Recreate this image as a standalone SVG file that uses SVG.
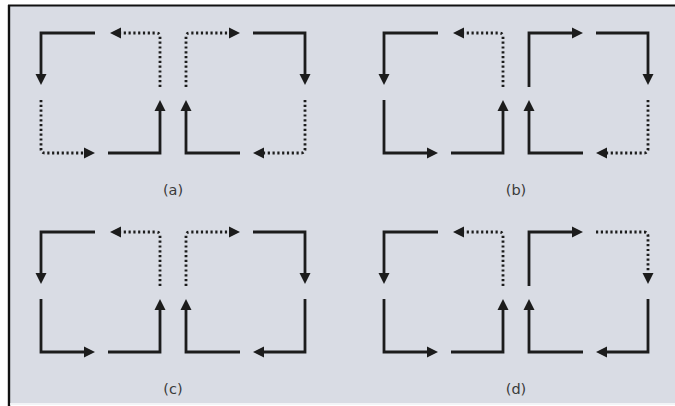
<svg xmlns="http://www.w3.org/2000/svg" width="675" height="406" viewBox="0 0 675 406">
  <style>
    .solid { fill: none; stroke: #1c1c1c; stroke-width: 2.8; stroke-linejoin: miter; }
    .dot { fill: none; stroke: #1c1c1c; stroke-width: 2.8; stroke-dasharray: 2.2 2.6; }
    .lbl { font-family: "DejaVu Sans", "Liberation Sans", sans-serif; font-size: 14.5px; fill: #3a3a3a; text-anchor: middle; }
  </style>
  <defs>
    <marker id="head" markerUnits="userSpaceOnUse" markerWidth="11" markerHeight="11" refX="0" refY="5.5" orient="auto" overflow="visible">
      <path d="M0,0 L11,5.5 L0,11 Z" fill="#1c1c1c"/>
    </marker>
  </defs>

  <!-- frame -->
  <rect x="0" y="0" width="675" height="406" fill="#ffffff"/>
  <rect x="9" y="6" width="666" height="397" fill="#d9dce4"/>
  <line x1="8" y1="5.5" x2="675" y2="5.5" stroke="#111" stroke-width="2.2"/>
  <line x1="9" y1="5" x2="9" y2="406" stroke="#111" stroke-width="2.4"/>
  <line x1="10" y1="404" x2="675" y2="404" stroke="#eef0f4" stroke-width="1.5"/>

  <g id="connectors">
    <!-- panel (a) -->
    <g id="panel-a">
      <path class="solid" d="M95,33 H41 V74" marker-end="url(#head)"/>
      <path class="dot" d="M160,87 V37 Q160,33 156,33 H121" marker-end="url(#head)"/>
      <path class="dot" d="M186,87 V37 Q186,33 190,33 H229" marker-end="url(#head)"/>
      <path class="solid" d="M253,33 H305 V74" marker-end="url(#head)"/>
      <path class="dot" d="M41,100 V149 Q41,153 45,153 H84" marker-end="url(#head)"/>
      <path class="solid" d="M108,153 H160 V111" marker-end="url(#head)"/>
      <path class="solid" d="M240,153 H186 V111" marker-end="url(#head)"/>
      <path class="dot" d="M305,100 V149 Q305,153 301,153 H264" marker-end="url(#head)"/>
    </g>
    <!-- panel (b) -->
    <g id="panel-b" transform="translate(343,0)">
      <path class="solid" d="M95,33 H41 V74" marker-end="url(#head)"/>
      <path class="dot" d="M160,87 V37 Q160,33 156,33 H121" marker-end="url(#head)"/>
      <path class="solid" d="M186,87 V33 H229" marker-end="url(#head)"/>
      <path class="solid" d="M253,33 H305 V74" marker-end="url(#head)"/>
      <path class="solid" d="M41,100 V153 H84" marker-end="url(#head)"/>
      <path class="solid" d="M108,153 H160 V111" marker-end="url(#head)"/>
      <path class="solid" d="M240,153 H186 V111" marker-end="url(#head)"/>
      <path class="dot" d="M305,100 V149 Q305,153 301,153 H264" marker-end="url(#head)"/>
    </g>
    <!-- panel (c) -->
    <g id="panel-c" transform="translate(0,199)">
      <path class="solid" d="M95,33 H41 V74" marker-end="url(#head)"/>
      <path class="dot" d="M160,87 V37 Q160,33 156,33 H121" marker-end="url(#head)"/>
      <path class="dot" d="M186,87 V37 Q186,33 190,33 H229" marker-end="url(#head)"/>
      <path class="solid" d="M253,33 H305 V74" marker-end="url(#head)"/>
      <path class="solid" d="M41,100 V153 H84" marker-end="url(#head)"/>
      <path class="solid" d="M108,153 H160 V111" marker-end="url(#head)"/>
      <path class="solid" d="M240,153 H186 V111" marker-end="url(#head)"/>
      <path class="solid" d="M305,100 V153 H264" marker-end="url(#head)"/>
    </g>
    <!-- panel (d) -->
    <g id="panel-d" transform="translate(343,199)">
      <path class="solid" d="M95,33 H41 V74" marker-end="url(#head)"/>
      <path class="dot" d="M160,87 V37 Q160,33 156,33 H121" marker-end="url(#head)"/>
      <path class="solid" d="M186,87 V33 H229" marker-end="url(#head)"/>
      <path class="dot" d="M253,33 H301 Q305,33 305,37 V74" marker-end="url(#head)"/>
      <path class="solid" d="M41,100 V153 H84" marker-end="url(#head)"/>
      <path class="solid" d="M108,153 H160 V111" marker-end="url(#head)"/>
      <path class="solid" d="M240,153 H186 V111" marker-end="url(#head)"/>
      <path class="solid" d="M305,100 V153 H264" marker-end="url(#head)"/>
    </g>
  </g>

  <g id="labels">
    <text class="lbl" x="173" y="195">(a)</text>
    <text class="lbl" x="516" y="195">(b)</text>
    <text class="lbl" x="173" y="394">(c)</text>
    <text class="lbl" x="516" y="394">(d)</text>
  </g>
</svg>
